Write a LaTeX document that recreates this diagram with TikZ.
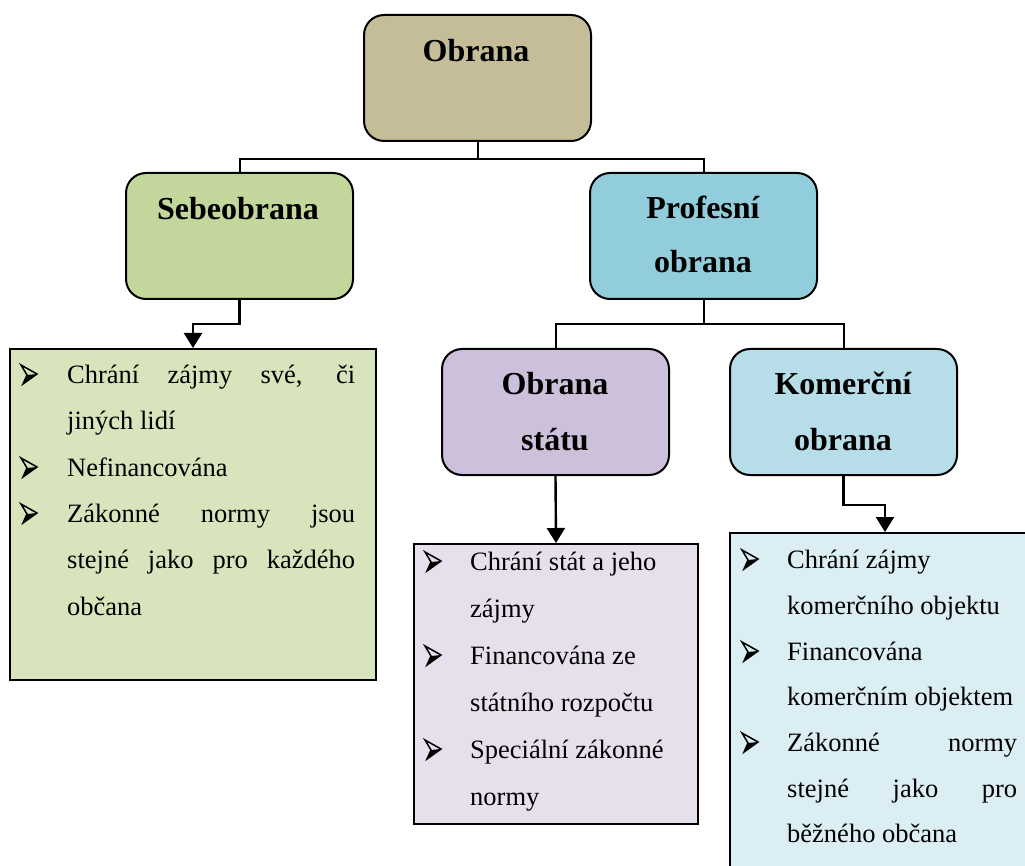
\documentclass[tikz,border=0pt]{standalone}
\usepackage{fontspec}
\setmainfont{Liberation Serif}
\usetikzlibrary{arrows.meta}
\definecolor{ctan}{HTML}{C4BD97}
\definecolor{cgreen}{HTML}{C3D69B}
\definecolor{cprof}{HTML}{92CDDC}
\definecolor{cpurple}{HTML}{CCC0DA}
\definecolor{ckom}{HTML}{B7DEE8}
\definecolor{lgreen}{HTML}{D7E4BC}
\definecolor{lpurple}{HTML}{E5E0EC}
\definecolor{lblue}{HTML}{DBEEF4}
\begin{document}
\begin{tikzpicture}[x=1pt,y=-1pt,
  box/.style={draw=black, line width=2pt, rounded corners=20pt, anchor=north west, inner sep=0pt, minimum width=227pt, minimum height=126pt},
  listbox/.style={draw=black, line width=2pt, anchor=north west, inner sep=0pt},
  conn/.style={draw=black, line width=2pt},
  arr/.style={draw=black, line width=2.4pt, -{Triangle[width=18pt,length=15pt]}},
  ttl/.style={font=\fontsize{32}{38}\selectfont\bfseries, anchor=base, inner sep=0pt},
  txt/.style={font=\fontsize{26.5}{30}\selectfont, anchor=base west, inner sep=0pt},
  bullet/.pic={
    \fill[black] (6,10) -- (16,9) -- (2,19) -- cycle;
    \draw[black, line width=1.5pt, line join=miter] (0,0) -- (16,9) -- (2,19) -- (6,10) -- cycle;
  }
]
\useasboundingbox (0,0) rectangle (1025,866);
\clip (0,0) rectangle (1025,866);
\fill[white] (0,0) rectangle (1025,866);

% boxes
\node[box, fill=ctan] (obrana) at (363,14) {};
\node[box, fill=cgreen] (sebe) at (125,172) {};
\node[box, fill=cprof] (prof) at (589,172) {};
\node[box, fill=cpurple] (stat) at (441,348) {};
\node[box, fill=ckom] (kom) at (729,348) {};

\node[listbox, fill=lgreen, minimum width=366pt, minimum height=331pt] (l1) at (9,348) {};
\node[listbox, fill=lpurple, minimum width=284pt, minimum height=280pt] (l2) at (413,543) {};
\node[listbox, fill=lblue, minimum width=310pt, minimum height=360pt] (l3) at (729,532) {};

% titles
\node[ttl] (t0) at (476,62) {Obrana};
\node[ttl] (t1) at (238,220) {Sebeobrana};
\node[ttl] (t2a) at (703,219) {Profesní};
\node[ttl] (t2b) at (703,273) {obrana};
\node[ttl] (t3a) at (555,395) {Obrana};
\node[ttl] (t3b) at (555,450) {státu};
\node[ttl] (t4a) at (843,395) {Komerční};
\node[ttl] (t4b) at (843,450) {obrana};

% connectors
\draw[conn] (obrana.south) -- ++(0,17) -| (sebe.north);
\draw[conn] (obrana.south) -- ++(0,17) -| (prof.north);
\draw[conn] (prof.south) -- ++(0,24) -| (stat.north);
\draw[conn] (prof.south) -- ++(0,24) -| (kom.north);
\draw[arr] (sebe.south) -- ++(0,24) -| (l1.north);
\draw[arr] (stat.south) -- (l2.north);
\draw[arr] (kom.south) -- ++(0,29) -| (l3.north);

% list 1
\pic at (21,365) {bullet};
\node[txt] (x11) at (67,383) {\makebox[288pt][s]{Chrání zájmy své, či}};
\node[txt] (x12) at (67,429.5) {jiných lidí};
\pic at (21,458) {bullet};
\node[txt] (x13) at (67,476) {Nefinancována};
\pic at (21,504) {bullet};
\node[txt] (x14) at (67,522) {\makebox[288pt][s]{Zákonné normy jsou}};
\node[txt] (x15) at (67,568.5) {\makebox[288pt][s]{stejné jako pro každého}};
\node[txt] (x16) at (67,615) {občana};

% list 2
\pic at (425,552) {bullet};
\node[txt] (x21) at (470,570) {Chrání stát a jeho};
\node[txt] (x22) at (470,617) {zájmy};
\pic at (425,646) {bullet};
\node[txt] (x23) at (470,664) {Financována ze};
\node[txt] (x24) at (470,711) {státního rozpočtu};
\pic at (425,740) {bullet};
\node[txt] (x25) at (470,758) {Speciální zákonné};
\node[txt] (x26) at (470,805) {normy};

% list 3
\pic at (742,550) {bullet};
\node[txt] (x31) at (787,568) {Chrání zájmy};
\node[txt] (x32) at (787,614) {komerčního objektu};
\pic at (742,642) {bullet};
\node[txt] (x33) at (787,660) {Financována};
\node[txt] (x34) at (787,705.5) {komerčním objektem};
\pic at (742,733) {bullet};
\node[txt] (x35) at (787,751) {\makebox[230pt][s]{Zákonné normy}};
\node[txt] (x36) at (787,797) {\makebox[230pt][s]{stejné jako pro}};
\node[txt] (x37) at (787,842) {běžného občana};
\end{tikzpicture}
\end{document}
